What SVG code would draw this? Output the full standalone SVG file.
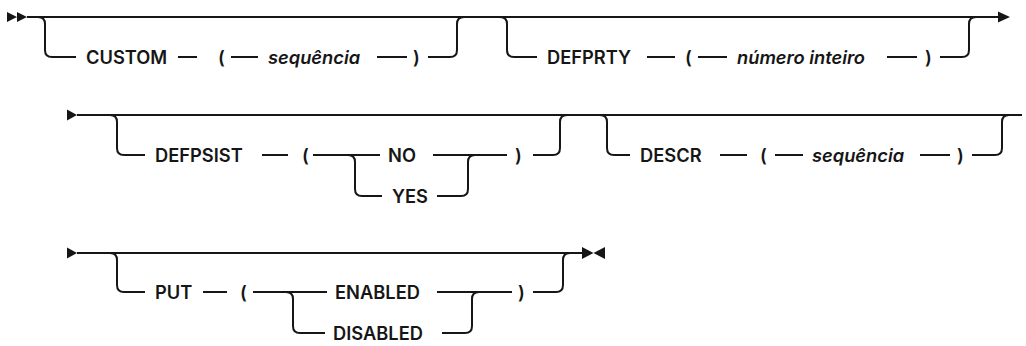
<svg xmlns="http://www.w3.org/2000/svg" width="1026" height="346" viewBox="0 0 1026 346">
<style>
.t{font-family:Inter,"Liberation Sans",sans-serif;font-size:18.3px;font-weight:600;fill:#161616}
.i{font-style:italic}
.l{fill:none;stroke:#161616;stroke-width:2}
.a{fill:#161616}
</style>
<rect width="1026" height="346" fill="#fff"/>
<g id="connectors">
<!-- row 1 -->
<path class="a" d="M7,12 L17,17 L7,22 Z M17,12 L27,17 L17,22 Z"/>
<path class="l" d="M27,17 H999"/>
<path class="a" d="M998,11.5 L1010,17 L998,22.5 Z"/>
<path class="l" d="M38,17 Q45,17 45,24 V50 Q45,57 52,57 H76"/>
<path class="l" d="M178,57 H197 M231,57 H258 M377,57 H407"/>
<path class="l" d="M428,57 H450 Q457,57 457,50 V24 Q457,17 464,17"/>
<path class="l" d="M500,17 Q507,17 507,24 V50 Q507,57 514,57 H537"/>
<path class="l" d="M647,57 H675 M698,57 H727 M887,57 H917"/>
<path class="l" d="M940,57 H962 Q969,57 969,50 V24 Q969,17 976,17"/>
<!-- row 2 -->
<path class="a" d="M67,109.5 L77,115 L67,120.5 Z"/>
<path class="l" d="M77,115 H1022"/>
<path class="l" d="M110,115 Q117,115 117,122 V148 Q117,155 124,155 H145"/>
<path class="l" d="M262,155 H288 M313,155 H380"/>
<path class="l" d="M348,155 Q355,155 355,162 V189 Q355,196 362,196 H382"/>
<path class="l" d="M433,155 H507"/>
<path class="l" d="M437,196 H461 Q468,196 468,189 V162 Q468,155 475,155"/>
<path class="l" d="M533,155 H553 Q560,155 560,148 V122 Q560,115 567,115"/>
<path class="l" d="M600,115 Q607,115 607,122 V148 Q607,155 614,155 H630"/>
<path class="l" d="M720,155 H747 M775,155 H803 M920,155 H950"/>
<path class="l" d="M972,155 H995 Q1002,155 1002,148 V122 Q1002,115 1009,115"/>
<!-- row 3 -->
<path class="a" d="M67,247.5 L77,253 L67,258.5 Z"/>
<path class="l" d="M77,253 H583"/>
<path class="a" d="M582,247 L593.5,253 L582,259 Z M605,247 L593.5,253 L605,259 Z"/>
<path class="l" d="M110,253 Q117,253 117,260 V285 Q117,292 124,292 H145"/>
<path class="l" d="M203,292 H227 M253,292 H327"/>
<path class="l" d="M286,292 Q293,292 293,299 V326 Q293,333 300,333 H325"/>
<path class="l" d="M437,292 H512"/>
<path class="l" d="M442,333 H465 Q472,333 472,326 V299 Q472,292 479,292"/>
<path class="l" d="M533,292 H556 Q563,292 563,285 V260 Q563,253 570,253"/>
</g>
<g id="custom"><text class="t" x="86" y="63.5">CUSTOM</text></g>
<g id="custom-open"><text class="t" x="218" y="63.5">(</text></g>
<g id="custom-seq"><text class="t i" x="268" y="63.5">sequência</text></g>
<g id="custom-close"><text class="t" x="413" y="63.5">)</text></g>
<g id="defprty"><text class="t" x="547" y="63.5">DEFPRTY</text></g>
<g id="defprty-open"><text class="t" x="685" y="63.5">(</text></g>
<g id="defprty-int"><text class="t i" x="737" y="63.5">número inteiro</text></g>
<g id="defprty-close"><text class="t" x="925" y="63.5">)</text></g>
<g id="defpsist"><text class="t" x="155" y="161.5">DEFPSIST</text></g>
<g id="defpsist-open"><text class="t" x="302" y="161.5">(</text></g>
<g id="no"><text class="t" x="388" y="161.5">NO</text></g>
<g id="yes"><text class="t" x="392" y="202.5">YES</text></g>
<g id="defpsist-close"><text class="t" x="515" y="161.5">)</text></g>
<g id="descr"><text class="t" x="640" y="161.5">DESCR</text></g>
<g id="descr-open"><text class="t" x="760" y="161.5">(</text></g>
<g id="descr-seq"><text class="t i" x="812" y="161.5">sequência</text></g>
<g id="descr-close"><text class="t" x="957" y="161.5">)</text></g>
<g id="put"><text class="t" x="155" y="298.5">PUT</text></g>
<g id="put-open"><text class="t" x="240" y="298.5">(</text></g>
<g id="enabled"><text class="t" x="335" y="298.5">ENABLED</text></g>
<g id="disabled"><text class="t" x="333" y="339.5">DISABLED</text></g>
<g id="put-close"><text class="t" x="518" y="298.5">)</text></g>
</svg>
